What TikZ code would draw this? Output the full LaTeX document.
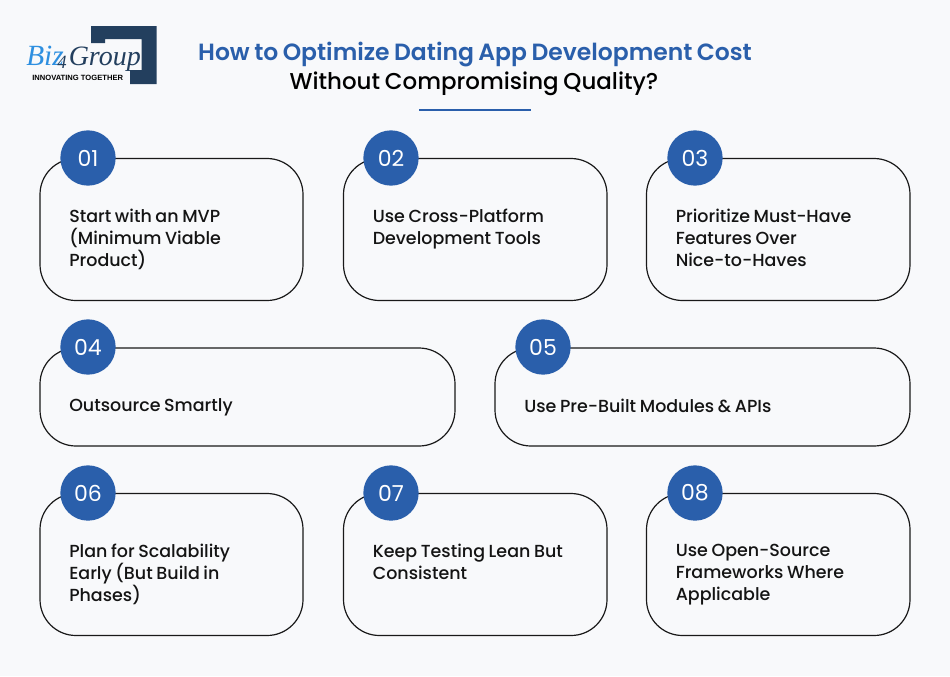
\documentclass[tikz,border=0pt]{standalone}
\usepackage{fontspec}
\setmainfont{Poppins}[UprightFont=* Medium,BoldFont=* SemiBold,WordSpace=0.8]
\newfontfamily\numfont{Poppins}
\newfontfamily\logofont{Liberation Serif}
\newfontfamily\logosans{Liberation Sans}
\definecolor{bgc}{HTML}{F8F9FB}
\definecolor{blu}{HTML}{2A5FAB}
\definecolor{nav}{HTML}{233F5E}
\definecolor{sky}{HTML}{2E8FE0}
\tikzset{x=0.75pt,y=-0.75pt,
 card/.style={draw=black!90,line width=0.9pt,rounded corners=27pt,fill=bgc},
 badge/.style={circle,fill=blu,minimum size=41.5pt,inner sep=0pt,text=white,font=\numfont\fontsize{16.5}{18}\selectfont},
 lab/.style={anchor=north west,align=left,inner sep=0pt,text=black!92,font=\fontsize{13.1}{16.5}\selectfont}}
\begin{document}
\begin{tikzpicture}
\useasboundingbox (0,0) rectangle (950,676);
\fill[bgc] (0,0) rectangle (950,676);
% logo
\fill[nav] (91,26) -- (156.5,26) -- (156.5,84) -- (130,84) -- (130,70) -- (141.5,70) -- (141.5,39) -- (105,39) -- (105,43) -- (91,43) -- cycle;
\node[anchor=base west,inner sep=0pt,text=sky,font=\logofont\itshape\fontsize{22}{24}\selectfont] (bz) at (26,65) {Biz};
\node[anchor=base west,inner sep=0pt,text=nav,font=\logofont\itshape\fontsize{21}{24}\selectfont] (gr) at (68.5,65) {Group};
\node[anchor=base,inner sep=0pt,text=nav,font=\logofont\itshape\fontsize{14}{15}\selectfont] (fr) at (62,68) {4};
\node[anchor=base west,inner sep=0pt,text=black,font=\logosans\bfseries\fontsize{5.7}{7}\selectfont] (ig) at (32,80) {INNOVATING TOGETHER};
% title
\node[anchor=base,inner sep=0pt,text=blu,font=\bfseries\fontsize{17.6}{20}\selectfont] (t1) at (475,60) {How to Optimize Dating App Development Cost};
\node[anchor=base,inner sep=0pt,text=black,font=\fontsize{17.2}{20}\selectfont] (t2) at (474,89) {Without Compromising Quality?};
\draw[blu,line width=1.2pt] (419,110) -- (531,110);
% cards
\newcommand{\crd}[8]{%
 \draw[card] (#1,#2) rectangle (#3,#4);
 \node[badge] (b#5) at (#6,#7) {#5};
 \node[lab] (l#5) at (#1+29,#2+50.5) {#8};}
\crd{40}{158.5}{303}{300.5}{01}{88}{158}{Start with an MVP\\(Minimum Viable\\Product)}
\crd{343.5}{158.5}{607}{300.5}{02}{391}{158}{Use Cross-Platform\\Development Tools}
\crd{646.5}{158.5}{910}{300.5}{03}{695}{158}{Prioritize Must-Have\\Features Over\\Nice-to-Haves}
\crd{40}{348}{455}{446}{04}{88}{347}{Outsource Smartly}
\crd{495}{348}{910}{446}{05}{543}{347}{Use Pre-Built Modules \& APIs}
\crd{40}{493.5}{303}{635.5}{06}{88}{493}{Plan for Scalability\\Early (But Build in\\Phases)}
\crd{343.5}{493.5}{607}{635.5}{07}{391}{493}{Keep Testing Lean But\\Consistent}
\crd{646.5}{493.5}{910}{635.5}{08}{695}{493}{Use Open-Source\\Frameworks Where\\Applicable}
\end{tikzpicture}
\end{document}
